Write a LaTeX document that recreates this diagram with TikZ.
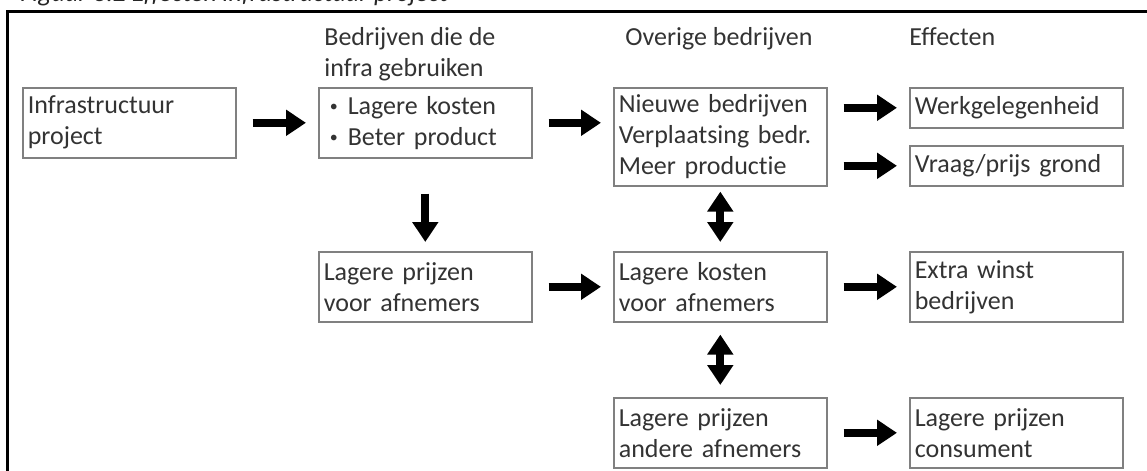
\documentclass[tikz,border=0pt]{standalone}
\usepackage{fontspec}
\setmainfont{Carlito}[Ligatures=CommonOff]
\usetikzlibrary{arrows.meta}
\newcommand{\bulitem}{\hspace*{3pt}\makebox[9pt][l]{\raisebox{0.25ex}{\fontsize{8}{8}\selectfont\textbullet}}}

\begin{document}
\begin{tikzpicture}[x=0.5pt,y=-0.5pt,
		box/.style={draw=black!50,line width=0.8pt,text=black!80,align=left,text width=101.5pt,inner xsep=2.5pt,inner ysep=0pt,anchor=north west,font=\fontsize{13}{15.5}\selectfont},
		h1/.style={box,minimum height=20pt},
		h2/.style={box,minimum height=35pt},
		h3/.style={box,minimum height=49pt},
		hdr/.style={inner sep=0pt,anchor=north west,align=left,text=black!80,font=\fontsize{13}{15.5}\selectfont},
		fat/.style={line width=4pt,-{Triangle[width=12.5pt,length=10pt]},shorten <=8pt,shorten >=6pt},
		fatboth/.style={line width=4pt,{Triangle[width=12.5pt,length=10pt]}-{Triangle[width=12.5pt,length=10pt]}}]
			\useasboundingbox (0,0) rectangle (1147,471);
			\clip (0,0) rectangle (1147,471);
			
			% title and frame, cut off by the page
			\node [inner sep=0pt,anchor=base west,text=black!85,font=\fontsize{13}{15.5}\selectfont\itshape] (T0) at (20,2) {Figuur 3.2 Effecten infrastructuur project};
			\draw [line width=1.5pt,line join=miter] (7,471) -- (7,11) -- (1147,11);
			
			\node [hdr] (H0) at (324,27) {Bedrijven die de\\infra gebruiken};
			\node [hdr] (H1) at (625,27) {Overige bedrijven};
			\node [hdr] (H2) at (909,27) {Effecten};
			
			\node [h2] (N0) at (22,87) {Infrastructuur\\project};
			\node [h2] (N1) at (318,87) {\bulitem Lagere kosten\\\bulitem Beter product};
			\node [h3] (N2) at (613,87) {Nieuwe bedrijven\\Verplaatsing bedr.\\Meer productie};
			\node [h1] (N3) at (909,87) {Werkgelegenheid};
			\node [h1] (N4) at (909,145) {Vraag/prijs grond};
			\node [h2] (N5) at (318,251) {Lagere prijzen\\voor afnemers};
			\node [h2] (N6) at (613,251) {Lagere kosten\\voor afnemers};
			\node [h2] (N7) at (909,251) {Extra winst\\bedrijven};
			\node [h2] (N8) at (613,397) {Lagere prijzen\\andere afnemers};
			\node [h2] (N9) at (909,397) {Lagere prijzen\\consument};
			
			\draw [fat] (N0) -- (N1);
			\draw [fat] (N1.east) -- (N1.east -| N2.west);
			\draw [fat] (N3.west -| N2.east) -- (N3.west);
			\draw [fat] (N4.west -| N2.east) -- (N4.west);
			\draw [fat,shorten <=17.5pt,shorten >=4.5pt] (N1) -- (N5);
			\draw [fat] (N5) -- (N6);
			\draw [fat] (N6) -- (N7);
			\draw [fat] (N8) -- (N9);
			\draw [fatboth,shorten <=2.5pt,shorten >=4.5pt] (N2) -- (N6);
			\draw [fatboth,shorten <=6pt,shorten >=6pt] (N6) -- (N8);
		\end{tikzpicture}
\end{document}
